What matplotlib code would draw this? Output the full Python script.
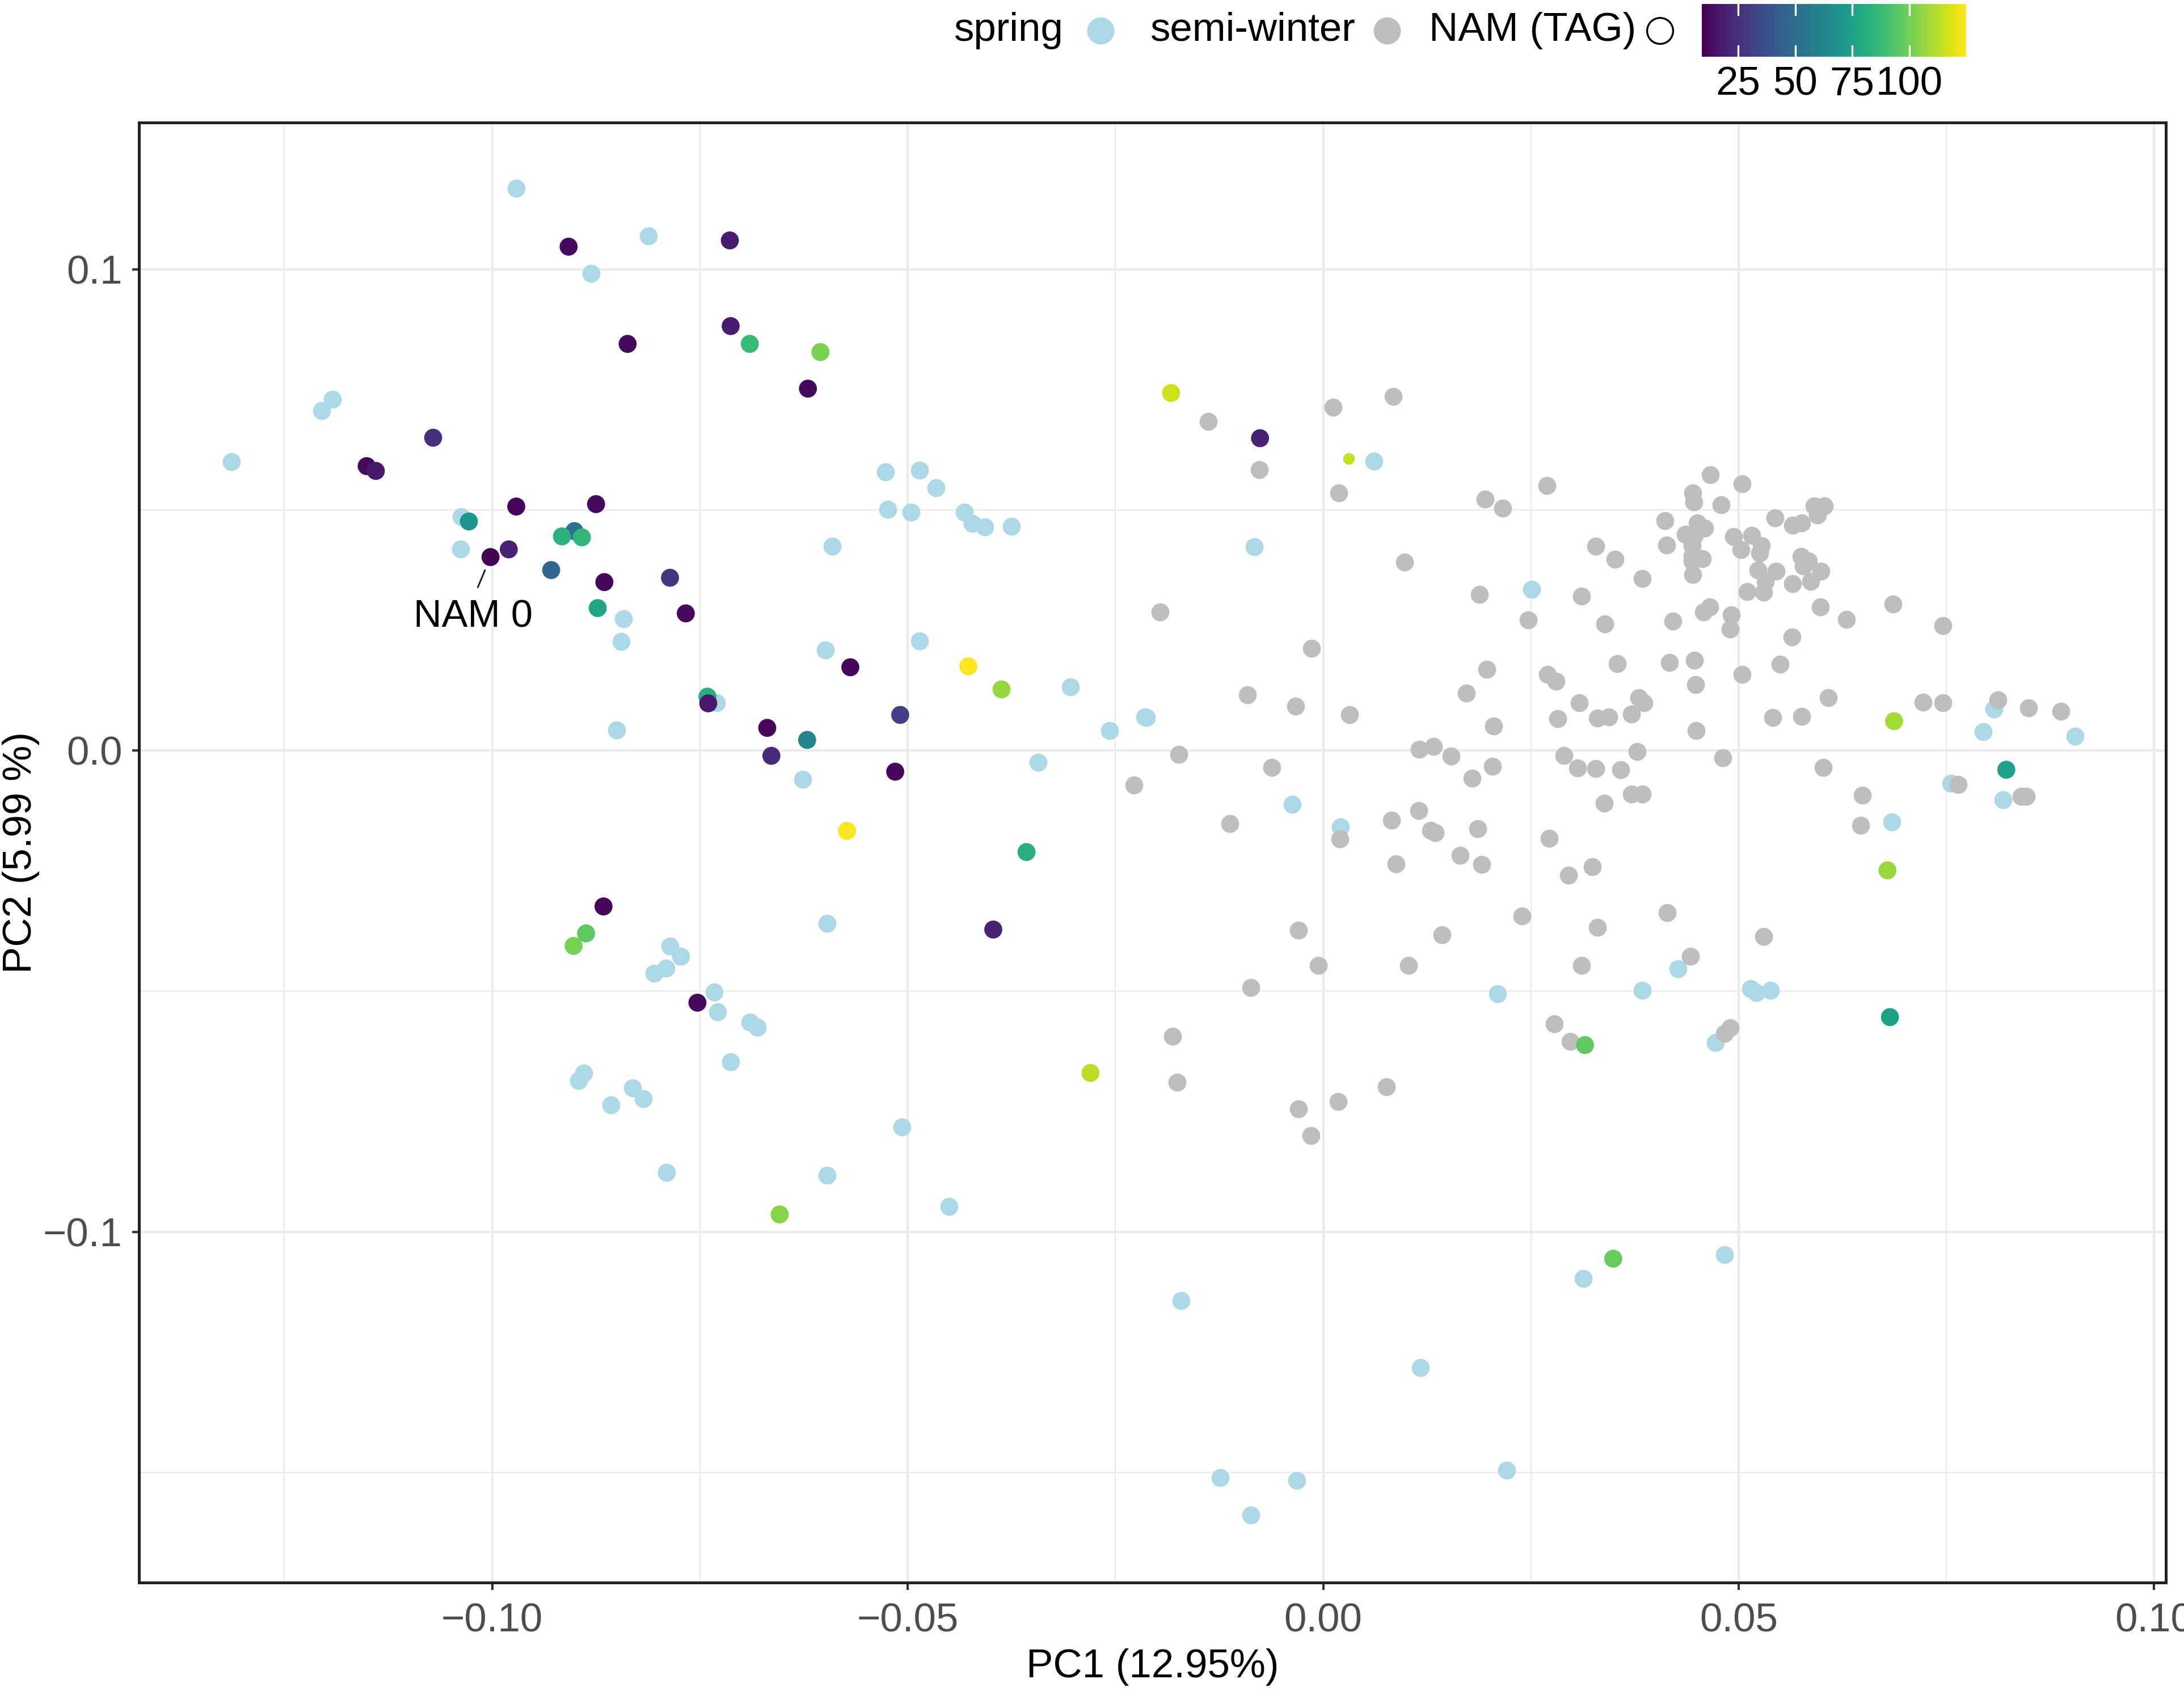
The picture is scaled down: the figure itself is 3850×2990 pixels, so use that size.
import matplotlib
matplotlib.use("Agg")
import matplotlib.pyplot as plt
import matplotlib.colors as mcolors
import matplotlib.colorbar as mcolorbar

plt.rcParams['font.family'] = ['Liberation Sans', 'DejaVu Sans']

# ---------------- data ----------------
spring_x = [-0.0971, -0.0812, -0.0881, -0.1192, -0.1205, -0.1314, -0.1037, -0.1038, -0.0842, -0.0845,
            -0.0850, -0.0527, -0.0486, -0.0466, -0.0524, -0.0496, -0.0432, -0.0422, -0.0407, -0.0375,
            -0.0591, -0.0599, -0.0486, -0.0304, -0.0215, -0.0257, -0.0730, -0.0343, -0.0626, -0.0597,
            -0.0786, -0.0773, -0.0791, -0.0805, -0.0733, -0.0729, -0.0690, -0.0681, -0.0713, -0.0890,
            -0.0896, -0.0831, -0.0818, -0.0857, -0.0507, -0.0790, -0.0597, -0.0450, 0.0061, -0.0083,
            0.0251, -0.0213, -0.0037, 0.0021, 0.0210, 0.0684, 0.0755, 0.0818, 0.0427, 0.0384,
            0.0514, 0.0521, 0.0538, 0.0472, 0.0807, 0.0794, 0.0905, -0.0171, 0.0117, -0.0124,
            -0.0087, -0.0032, 0.0221, 0.0313, 0.0483]
spring_y = [0.1168, 0.1069, 0.0992, 0.0730, 0.0706, 0.0600, 0.0486, 0.0419, 0.0274, 0.0226,
            0.0043, 0.0579, 0.0583, 0.0546, 0.0501, 0.0495, 0.0495, 0.0472, 0.0465, 0.0466,
            0.0425, 0.0209, 0.0228, 0.0132, 0.0070, 0.0041, 0.0099, -0.0025, -0.0060, -0.0359,
            -0.0406, -0.0428, -0.0453, -0.0463, -0.0502, -0.0543, -0.0564, -0.0575, -0.0647, -0.0671,
            -0.0686, -0.0701, -0.0723, -0.0736, -0.0783, -0.0877, -0.0883, -0.0948, 0.0601, 0.0423,
            0.0335, 0.0069, -0.0112, -0.0159, -0.0506, -0.0148, -0.0068, -0.0102, -0.0454, -0.0499,
            -0.0495, -0.0503, -0.0498, -0.0607, 0.0086, 0.0039, 0.0030, -0.1143, -0.1282, -0.1511,
            -0.1589, -0.1517, -0.1496, -0.1097, -0.1048]

semi_x = [-0.0138, -0.0077, 0.0012, 0.0084, 0.0019, 0.0195, 0.0216, 0.0269, 0.0098, 0.0328,
          0.0351, 0.0188, 0.0311, 0.0247, 0.0339, -0.0196, -0.0014, 0.0197, 0.0354, 0.0270,
          0.0280, 0.0172, -0.0091, -0.0033, 0.0032, 0.0308, 0.0282, 0.0205, 0.0330, 0.0344,
          -0.0174, 0.0116, 0.0133, 0.0154, -0.0062, 0.0204, 0.0290, 0.0306, 0.0328,
          0.0466, 0.0504, 0.0445, 0.0446, 0.0479, 0.0411, 0.0544, 0.0565, 0.0576, 0.0591,
          0.0603, 0.0595, 0.0450, 0.0459, 0.0436, 0.0447, 0.0413, 0.0444, 0.0444, 0.0456,
          0.0444, 0.0445, 0.0494, 0.0516, 0.0527, 0.0503, 0.0525, 0.0575, 0.0584, 0.0578,
          0.0599, 0.0587, 0.0565, 0.0523, 0.0545, 0.0532, 0.0510, 0.0530, 0.0384, 0.0465,
          0.0458, 0.0491, 0.0490, 0.0421, 0.0598, 0.0630, 0.0686, 0.0746, 0.0564, 0.0417,
          0.0447, 0.0448, 0.0504, 0.0550, 0.0380, 0.0386, 0.0371, 0.0608, 0.0449, 0.0541,
          0.0576, 0.0722, 0.0746, 0.0812, 0.0849, 0.0888, 0.0378, 0.0481, 0.0602,
          0.0179, -0.0228, -0.0112, 0.0020, 0.0082, 0.0115, 0.0129, 0.0135, 0.0186, 0.0165,
          0.0191, 0.0088, 0.0338, 0.0272, 0.0324, 0.0295, 0.0239, 0.0143, 0.0330, -0.0030,
          -0.0006, 0.0103, 0.0311, -0.0087, 0.0278, 0.0297, -0.0181, -0.0176, 0.0076, 0.0018,
          -0.0030, -0.0015, 0.0358,
          0.0371, 0.0384, 0.0649, 0.0647, 0.0764, 0.0840, 0.0846, 0.0414, 0.0530, 0.0442,
          0.0490, 0.0483]
semi_y = [0.0684, 0.0584, 0.0713, 0.0736, 0.0535, 0.0522, 0.0503, 0.0551, 0.0392, 0.0425,
          0.0397, 0.0324, 0.0321, 0.0271, 0.0263, 0.0288, 0.0212, 0.0169, 0.0181, 0.0158,
          0.0144, 0.0119, 0.0116, 0.0092, 0.0074, 0.0099, 0.0066, 0.0051, 0.0067, 0.0070,
          -0.0008, 0.0003, 0.0008, -0.0012, -0.0035, -0.0033, -0.0010, -0.0036, -0.0037,
          0.0573, 0.0554, 0.0535, 0.0516, 0.0510, 0.0477, 0.0484, 0.0468, 0.0473, 0.0508,
          0.0508, 0.0489, 0.0473, 0.0462, 0.0449, 0.0447, 0.0427, 0.0426, 0.0404, 0.0398,
          0.0394, 0.0366, 0.0444, 0.0447, 0.0426, 0.0417, 0.0410, 0.0403, 0.0394, 0.0383,
          0.0373, 0.0352, 0.0347, 0.0375, 0.0373, 0.0351, 0.0330, 0.0329, 0.0357, 0.0298,
          0.0288, 0.0282, 0.0253, 0.0269, 0.0298, 0.0272, 0.0304, 0.0260, 0.0236, 0.0183,
          0.0187, 0.0137, 0.0158, 0.0179, 0.0110, 0.0099, 0.0076, 0.0110, 0.0042, 0.0068,
          0.0071, 0.0100, 0.0099, 0.0105, 0.0088, 0.0082, -0.0002, -0.0015, -0.0035,
          -0.0058, -0.0072, -0.0152, -0.0184, -0.0145, -0.0125, -0.0166, -0.0171, -0.0163, -0.0218,
          -0.0237, -0.0235, -0.0109, -0.0182, -0.0242, -0.0259, -0.0344, -0.0383, -0.0368, -0.0374,
          -0.0447, -0.0446, -0.0447, -0.0492, -0.0568, -0.0605, -0.0594, -0.0689, -0.0699, -0.0729,
          -0.0745, -0.0800, -0.0040,
          -0.0091, -0.0091, -0.0093, -0.0156, -0.0070, -0.0095, -0.0095, -0.0337, -0.0387, -0.0428,
          -0.0576, -0.0588]

nam_x = [-0.0908, -0.0837, -0.1071, -0.1151, -0.1140, -0.0971, -0.0875, -0.1028, -0.0901, -0.0916,
         -0.0892, -0.1002, -0.0980, -0.0929, -0.0865, -0.0786, -0.0873, -0.0767, -0.0714, -0.0713,
         -0.0690, -0.0605, -0.0620, -0.0569, -0.0427, -0.0387, -0.0741, -0.0740, -0.0669, -0.0621,
         -0.0664, -0.0509, -0.0515, -0.0573, -0.0357, -0.0397, -0.0280, -0.0866, -0.0887, -0.0902,
         -0.0753, -0.0654, -0.0183, -0.0076, 0.0031, 0.0687, 0.0822, 0.0679, 0.0682, 0.0315,
         0.0349]
nam_y = [0.1047, 0.0845, 0.0650, 0.0591, 0.0581, 0.0507, 0.0512, 0.0476, 0.0456, 0.0445,
         0.0443, 0.0402, 0.0418, 0.0375, 0.0350, 0.0359, 0.0296, 0.0285, 0.1060, 0.0882,
         0.0845, 0.0828, 0.0752, 0.0173, 0.0175, 0.0127, 0.0112, 0.0098, 0.0047, 0.0022,
         -0.0011, 0.0074, -0.0044, -0.0167, -0.0211, -0.0372, -0.0670, -0.0324, -0.0380, -0.0406,
         -0.0524, -0.0964, 0.0743, 0.0649, 0.0606, 0.0061, -0.0040, -0.0249, -0.0554, -0.0612,
         -0.1056]
nam_tag = [12, 12, 25, 12, 17, 11, 12, 70, 52, 83,
           86, 9, 20, 47, 11, 27, 77, 12, 18, 18,
           87, 101, 12, 11, 125, 106, 82, 17, 11, 62,
           23, 30, 11, 124, 82, 20, 113, 11, 96, 101,
           12, 104, 116, 20, 115, 109, 76, 107, 75, 96,
           98]
nam_small = [44]          # index of the NAM accession drawn smaller
nam_label = "NAM 0"
nam_label_idx = 11

x_ticks = [-0.10, -0.05, 0.00, 0.05, 0.10]
x_tick_labels = ["\u22120.10", "\u22120.05", "0.00", "0.05", "0.10"]
y_ticks = [-0.1, 0.0, 0.1]
y_tick_labels = ["\u22120.1", "0.0", "0.1"]
cbar_ticks = [25, 50, 75, 100]

# ---------------- figure ----------------
W, H = 3850, 2990
DPI = 300
fig = plt.figure(figsize=(W / DPI, H / DPI), dpi=DPI)
fig.patch.set_facecolor("white")

left_px, right_px, top_px, bottom_px = 245, 3818, 216, 2790
L = left_px / W
Wd = (right_px - left_px) / W
Bf = 1 - bottom_px / H
Hd = (bottom_px - top_px) / H
ax = fig.add_axes([L, Bf, Wd, Hd])

ax.set_xlim(-0.1425, 0.1014)
ax.set_ylim(-0.1729, 0.1305)

# grid
for v in [-0.125, -0.075, -0.025, 0.025, 0.075]:
    ax.axvline(v, color="#EBEBEB", lw=0.55, zorder=0)
for v in [-0.15, -0.05, 0.05]:
    ax.axhline(v, color="#EBEBEB", lw=0.55, zorder=0)
for v in x_ticks:
    ax.axvline(v, color="#EBEBEB", lw=1.0, zorder=0)
for v in y_ticks:
    ax.axhline(v, color="#EBEBEB", lw=1.0, zorder=0)

PS = 58
ax.scatter(spring_x, spring_y, s=PS, c="#ADD8E6", linewidths=0, zorder=2)
ax.scatter(semi_x, semi_y, s=PS, c="#BEBEBE", linewidths=0, zorder=3)

vmin, vmax = min(nam_tag), max(nam_tag)
norm = mcolors.Normalize(vmin=vmin, vmax=vmax)
cmap = plt.get_cmap("viridis")
sizes = [24 if i in nam_small else PS for i in range(len(nam_x))]
ax.scatter(nam_x, nam_y, s=sizes, c=nam_tag, cmap=cmap, norm=norm, linewidths=0, zorder=4)

# label
ax.annotate(nam_label, xy=(nam_x[nam_label_idx], nam_y[nam_label_idx]),
            xytext=(-0.1023, 0.0278), ha="center", va="center", fontsize=16.5, color="black",
            arrowprops=dict(arrowstyle="-", color="#222222", lw=0.7, shrinkA=3, shrinkB=6,
                            relpos=(0.5, 1.0)), zorder=5)

# axes styling
ax.set_xticks(x_ticks)
ax.set_xticklabels(x_tick_labels)
ax.set_yticks(y_ticks)
ax.set_yticklabels(y_tick_labels)
ax.tick_params(axis="both", direction="out", length=3, width=1.0, color="#333333",
               labelsize=17, labelcolor="#4D4D4D")
ax.tick_params(axis="x", pad=5.5)
ax.tick_params(axis="y", pad=4)
for sp in ax.spines.values():
    sp.set_color("#222222")
    sp.set_linewidth(1.2)
    sp.set_zorder(6)

fig.text(L + Wd / 2, 1 - 2939 / H, "PC1 (12.95%)", ha="center", va="center",
         fontsize=17, color="black")
fig.text(37 / W, Bf + Hd / 2, "PC2 (5.99 %)",
         ha="center", va="center", rotation=90, fontsize=17, color="black")

# ---------------- legend ----------------
ly = 1 - 54 / H
fig.text(1682 / W, ly, "spring", ha="left", va="center", fontsize=17)
fig.text(2028 / W, ly, "semi-winter", ha="left", va="center", fontsize=17)
fig.text(2519 / W, ly, "NAM (TAG)", ha="left", va="center", fontsize=17)
lax = fig.add_axes([0, 0, 1, 1], facecolor="none")
lax.set_xlim(0, W)
lax.set_ylim(H, 0)
lax.axis("off")
lax.plot([1940], [54], "o", ms=11.5, color="#ADD8E6", mec="none")
lax.plot([2445], [54], "o", ms=11.5, color="#BEBEBE", mec="none")
lax.plot([2926], [54], "o", ms=11, mfc="none", mec="black", mew=0.8)

cax = fig.add_axes([3000 / W, 1 - 100 / H, 466 / W, 93 / H])
cb = mcolorbar.ColorbarBase(cax, cmap=cmap, norm=norm, orientation="horizontal")
cb.outline.set_visible(False)
cb.set_ticks(cbar_ticks)
cax.tick_params(length=0, labelsize=17, labelcolor="black", pad=4)
for v in cbar_ticks:
    cax.axvline(v, ymin=0, ymax=0.2, color="white", lw=0.8)
    cax.axvline(v, ymin=0.8, ymax=1.0, color="white", lw=0.8)

fig.savefig("out.png", dpi=DPI, facecolor="white")
